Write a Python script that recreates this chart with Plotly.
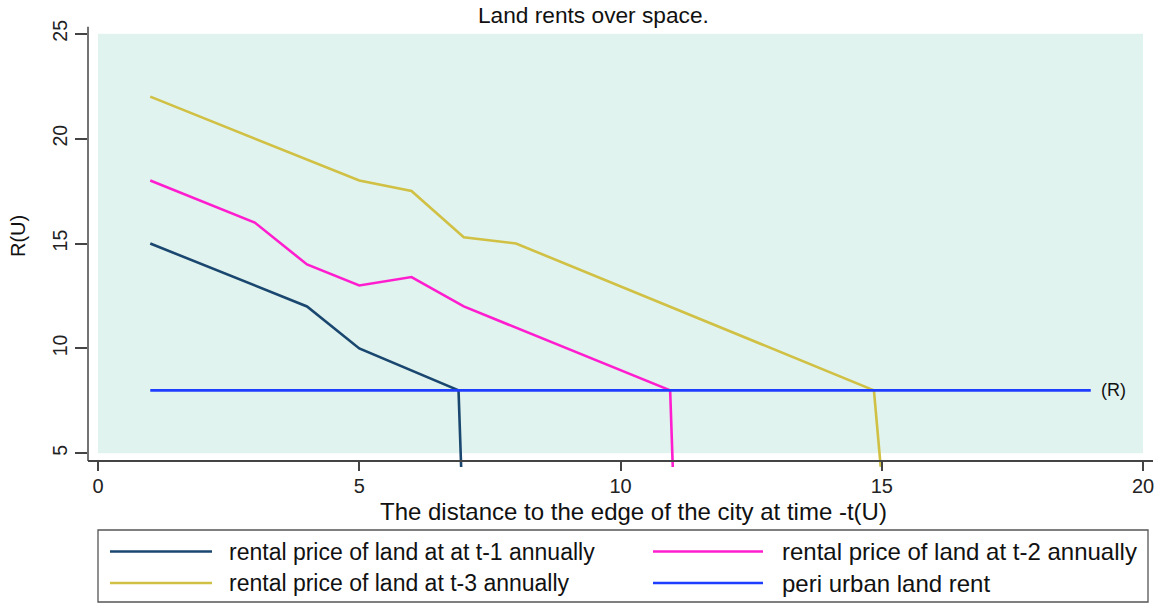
import plotly.graph_objects as go

# ---- data -------------------------------------------------------------
title_text = "Land rents over space."
x_title = "The distance to the edge of the city at time -t(U)"
y_title = "R(U)"

names = [
    "rental price of land at at t-1 annually",
    "rental price of land at t-2 annually",
    "rental price of land at t-3 annually",
    "peri urban land rent",
]

t1_x = [1, 4, 5, 6.9, 6.95]
t1_y = [15, 12, 10, 8, 4.35]

t2_x = [1, 3, 4, 5, 6, 7, 10.95, 11.0]
t2_y = [18, 16, 14, 13, 13.4, 12, 8, 4.35]

t3_x = [1, 5, 6, 7, 8, 14.85, 14.98]
t3_y = [22, 18, 17.5, 15.3, 15, 8, 4.35]

peri_x = [1, 2, 3, 4, 5, 6, 7, 8, 9, 10, 11, 12, 13, 14, 15, 16, 17, 18, 19]
peri_y = [8, 8, 8, 8, 8, 8, 8, 8, 8, 8, 8, 8, 8, 8, 8, 8, 8, 8, 8]
peri_label = "(R)"

x_ticks = [0, 5, 10, 15, 20]
y_ticks = [5, 10, 15, 20, 25]

colors = ["#1a476f", "#ff1ecf", "#d0c044", "#1f3dff"]

# ---- geometry helpers (pixel -> paper inside the plot area) -----------
W, H = 1161, 604
L, R, T, B = 88, 1153, 26, 470
FONT = "Liberation Sans, Arial, sans-serif"


def px_x(p):
    return (p - L) / (R - L)


def px_y(p):
    return (B - p) / (B - T)


x_range = [-0.1914, 20.191]
y_range = [4.204, 25.367]
x_axis_y = 4.633  # where the horizontal axis line sits

fig = go.Figure()
series = [(t1_x, t1_y), (t2_x, t2_y), (t3_x, t3_y), (peri_x, peri_y)]
for (xs, ys), name, col in zip(series, names, colors):
    fig.add_trace(go.Scatter(
        x=xs, y=ys, mode="lines", name=name,
        line=dict(color=col, width=2.6), showlegend=False,
        hoverinfo="x+y+name",
    ))

shapes = [
    # plot region fill
    dict(type="rect", xref="x", yref="y", x0=x_ticks[0], x1=x_ticks[-1],
         y0=y_ticks[0], y1=y_ticks[-1], fillcolor="#e1f3ee",
         line=dict(width=0), layer="below"),
    # vertical axis line
    dict(type="line", xref="paper", yref="y", x0=0, x1=0,
         y0=x_axis_y, y1=25.33, line=dict(color="#444", width=1.5)),
    # legend frame
    dict(type="rect", xref="paper", yref="paper",
         x0=px_x(98), x1=px_x(1148), y0=px_y(602), y1=px_y(530),
         line=dict(color="#555", width=1.3), fillcolor="rgba(0,0,0,0)"),
]

annotations = [
    dict(text=title_text, xref="paper", yref="paper", x=px_x(593), y=px_y(15),
         showarrow=False, xanchor="center", yanchor="middle",
         font=dict(size=22.7, color="#111", family=FONT)),
    dict(text=x_title, xref="paper", yref="paper", x=px_x(633), y=px_y(512),
         showarrow=False, xanchor="center", yanchor="middle",
         font=dict(size=24, color="#111", family=FONT)),
    dict(text=y_title, xref="paper", yref="paper", x=px_x(18), y=px_y(236),
         showarrow=False, xanchor="center", yanchor="middle", textangle=-90,
         font=dict(size=20, color="#111", family=FONT)),
    dict(text=peri_label, xref="x", yref="y", x=peri_x[-1] + 0.16, y=peri_y[-1],
         showarrow=False, xanchor="left", yanchor="middle",
         font=dict(size=18, color="#111", family=FONT)),
]

# legend entries: two columns, two rows
legend_cols = [(110, 212, 227, 23), (653, 763, 780, 24)]
legend_rows = [551.5, 583]
for k, idx in enumerate(range(len(names))):
    row, col = divmod(k, 2)
    lx0, lx1, tx, fs = legend_cols[col]
    ly = legend_rows[row]
    shapes.append(dict(type="line", xref="paper", yref="paper",
                       x0=px_x(lx0), x1=px_x(lx1), y0=px_y(ly), y1=px_y(ly),
                       line=dict(color=colors[idx], width=2.6)))
    annotations.append(dict(text=names[idx], xref="paper", yref="paper",
                            x=px_x(tx), y=px_y(ly), showarrow=False,
                            xanchor="left", yanchor="middle",
                            font=dict(size=fs, color="#111", family=FONT)))

fig.update_layout(
    width=W, height=H,
    margin=dict(l=L, r=W - R, t=T, b=H - B, autoexpand=False),
    paper_bgcolor="white", plot_bgcolor="white",
    font=dict(family=FONT, color="#222"),
    shapes=shapes, annotations=annotations,
    showlegend=False,
    xaxis=dict(range=x_range, anchor="free", position=(x_axis_y - y_range[0]) / (y_range[1] - y_range[0]),
               tickvals=x_ticks, ticks="outside", ticklen=9, tickwidth=1.5,
               tickcolor="#444", showline=True, linecolor="#444", linewidth=1.5,
               showgrid=False, zeroline=False, ticklabelstandoff=-2,
               tickfont=dict(size=20, color="#222", family=FONT)),
    yaxis=dict(range=y_range, tickvals=y_ticks, ticks="outside", ticklen=12,
               tickwidth=1.5, tickcolor="#444", showline=False,
               showgrid=False, zeroline=False, tickangle=-90,
               tickfont=dict(size=19.5, color="#222", family=FONT)),
)

fig.write_html("out.html")
